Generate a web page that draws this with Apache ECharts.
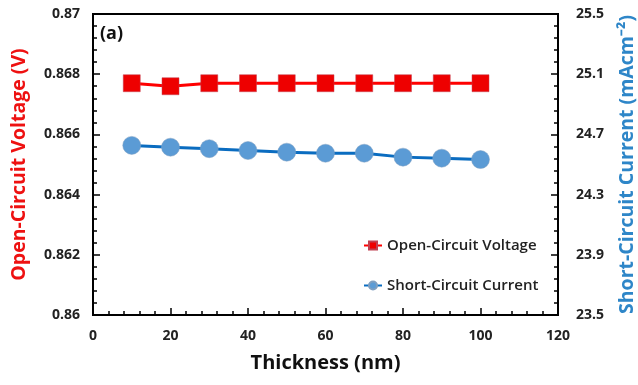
<!DOCTYPE html>
<html lang="en">
<head>
  <meta charset="utf-8">
  <title>Thickness</title>
  <script src="https://cdn.jsdelivr.net/npm/echarts@6/dist/echarts.min.js"></script>
  <style>
    html, body { margin: 0; padding: 0; background: #fff; }
    #chart { width: 638px; height: 385px; }
  </style>
</head>
<body>
  <div id="chart"></div>
  <script>
    // data
    var thickness = [10, 20, 30, 40, 50, 60, 70, 80, 90, 100];
    var vocValues = [0.8677, 0.8676, 0.8677, 0.8677, 0.8677, 0.8677, 0.8677, 0.8677, 0.8677, 0.8677];
    var jscValues = [24.627, 24.615, 24.605, 24.593, 24.582, 24.575, 24.575, 24.549, 24.542, 24.533];

    var font = 'Open Sans';
    var chart = echarts.init(document.getElementById('chart'));

    function pairs(ys) {
      return thickness.map(function (x, i) { return [x, ys[i]]; });
    }

    var tickStyle = { color: '#000', width: 1.5 };

    chart.setOption({
      animation: false,
      textStyle: { fontFamily: font },
      title: {
        text: '(a)', left: 95, top: 20,
        textStyle: { fontFamily: font, fontSize: 18, fontWeight: 'bold', color: '#111' }
      },
      grid: {
        left: 93, right: 80, top: 14, bottom: 70,
        outerBoundsMode: 'none',
        show: true, borderColor: '#000', borderWidth: 2
      },
      legend: {
        orient: 'vertical', left: 358, top: 233, itemGap: 25,
        itemWidth: 18, itemHeight: 10,
        textStyle: { fontFamily: font, fontSize: 15, fontWeight: 600, color: '#222' },
        data: ['Open-Circuit Voltage', 'Short-Circuit Current']
      },
      xAxis: {
        type: 'value', min: 0, max: 120, interval: 20,
        name: 'Thickness (nm)', nameLocation: 'middle', nameGap: 38,
        nameTextStyle: { fontFamily: font, fontSize: 20, fontWeight: 'bold', color: '#111' },
        axisLine: { lineStyle: { color: '#000', width: 2 } },
        axisTick: { show: true, inside: true, length: 7, lineStyle: tickStyle },
        minorTick: { show: true, splitNumber: 5, length: 4, lineStyle: tickStyle },
        splitLine: { show: false },
        axisLabel: { margin: 14, fontFamily: font, fontSize: 14, fontWeight: 'bold', color: '#222' }
      },
      yAxis: [{
        type: 'value', min: 0.86, max: 0.87, interval: 0.002,
        name: 'Open-Circuit Voltage (V)', nameLocation: 'middle', nameGap: 64,
        nameTextStyle: { fontFamily: font, fontSize: 19.5, fontWeight: 'bold', color: '#ee1111' },
        axisLine: { show: true, lineStyle: { color: '#000', width: 2 } },
        axisTick: { show: true, inside: true, length: 7, lineStyle: tickStyle },
        minorTick: { show: true, splitNumber: 5, length: 4, lineStyle: tickStyle },
        splitLine: { show: false },
        axisLabel: {
          margin: 13, fontFamily: font, fontSize: 14, fontWeight: 'bold', color: '#222',
          formatter: function (v) { return String(+v.toFixed(3)); }
        }
      }, {
        type: 'value', min: 23.5, max: 25.5, interval: 0.4,
        name: 'Short-Circuit Current (mAcm⁻²)', nameLocation: 'middle', nameGap: 59,
        nameTextStyle: { fontFamily: font, fontSize: 19.5, fontWeight: 'bold', color: '#2e86c8' },
        axisLine: { show: true, lineStyle: { color: '#000', width: 2 } },
        axisTick: { show: true, inside: true, length: 7, lineStyle: tickStyle },
        minorTick: { show: true, splitNumber: 5, length: 4, lineStyle: tickStyle },
        splitLine: { show: false },
        axisLabel: {
          margin: 18, fontFamily: font, fontSize: 14, fontWeight: 'bold', color: '#222',
          formatter: function (v) { return v.toFixed(1); }
        }
      }],
      series: [{
        name: 'Open-Circuit Voltage', type: 'line', yAxisIndex: 0,
        data: pairs(vocValues),
        symbol: 'rect', symbolSize: 17,
        lineStyle: { color: '#ff0000', width: 3 },
        itemStyle: { color: '#ee0000', borderColor: '#c04050', borderWidth: 0.5 }
      }, {
        name: 'Short-Circuit Current', type: 'line', yAxisIndex: 1,
        data: pairs(jscValues),
        symbol: 'circle', symbolSize: 18,
        lineStyle: { color: '#0a6cc0', width: 3 },
        itemStyle: { color: '#5b9bd5', borderColor: '#7f9fc0', borderWidth: 0.5 }
      }]
    });
  </script>
</body>
</html>
